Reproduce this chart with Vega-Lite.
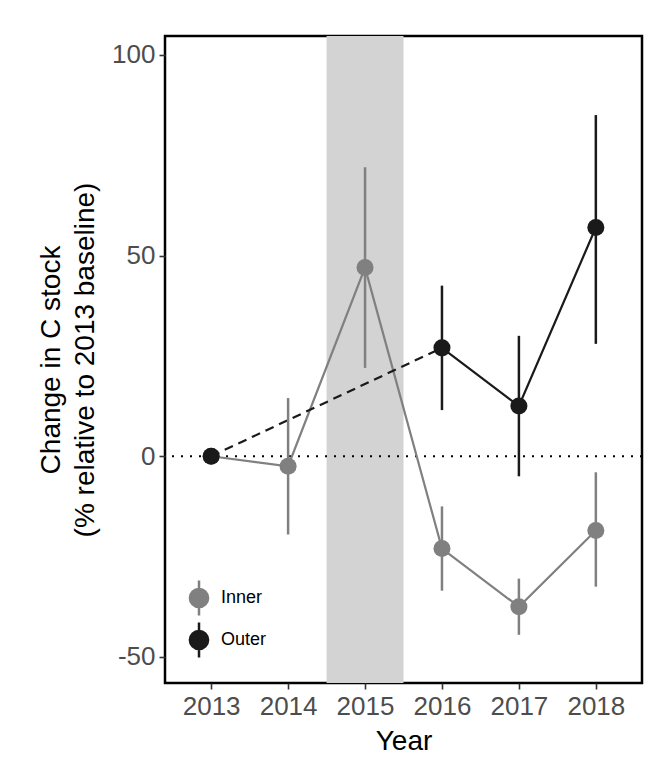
{
  "$schema": "https://vega.github.io/schema/vega-lite/v6.json",
  "width": 477,
  "height": 647,
  "autosize": {"type": "none"},
  "padding": {"left": 165, "top": 36, "right": 29, "bottom": 75},
  "background": "white",
  "config": {
    "font": "Liberation Sans",
    "view": {"stroke": "black", "strokeWidth": 2.5},
    "axis": {"grid": false, "domain": false, "labelFontSize": 26, "labelColor": "#4d4d4d", "tickColor": "#333333", "tickWidth": 1.6, "tickSize": 6, "titleFontWeight": "normal", "titleColor": "black", "labelFont": "Liberation Sans", "titleFont": "Liberation Sans"}
  },
  "datasets": {
    "pts": [
      {"Year": 2013, "Group": "Inner", "val": 0, "lo": 0, "hi": 0},
      {"Year": 2014, "Group": "Inner", "val": -2.5, "lo": -19.5, "hi": 14.5},
      {"Year": 2015, "Group": "Inner", "val": 47, "lo": 22, "hi": 72},
      {"Year": 2016, "Group": "Inner", "val": -23, "lo": -33.5, "hi": -12.5},
      {"Year": 2017, "Group": "Inner", "val": -37.5, "lo": -44.5, "hi": -30.5},
      {"Year": 2018, "Group": "Inner", "val": -18.5, "lo": -32.5, "hi": -4},
      {"Year": 2013, "Group": "Outer", "val": 0, "lo": 0, "hi": 0},
      {"Year": 2016, "Group": "Outer", "val": 27, "lo": 11.5, "hi": 42.5},
      {"Year": 2017, "Group": "Outer", "val": 12.5, "lo": -5, "hi": 30},
      {"Year": 2018, "Group": "Outer", "val": 57, "lo": 28, "hi": 85}
    ],
    "band": [{"start": 2014.5, "end": 2015.5}],
    "zero": [{"y": 0}]
  },
  "layer": [
    {
      "data": {"name": "band"},
      "mark": {"type": "rect", "color": "#d3d3d3"},
      "encoding": {
        "x": {"field": "start", "type": "quantitative", "scale": {"domain": [2012.4, 2018.6], "nice": false, "zero": false}},
        "x2": {"field": "end"}
      }
    },
    {
      "data": {"name": "zero"},
      "mark": {"type": "rule", "color": "black", "strokeWidth": 2, "strokeDash": [2, 7]},
      "encoding": {"y": {"field": "y", "type": "quantitative"}}
    },
    {
      "data": {"name": "pts"},
      "transform": [{"filter": "datum.Group == 'Inner'"}],
      "mark": {"type": "line", "strokeWidth": 2.2},
      "encoding": {
        "x": {"field": "Year", "type": "quantitative"},
        "y": {"field": "val", "type": "quantitative"},
        "color": {"field": "Group", "type": "nominal"}
      }
    },
    {
      "data": {"name": "pts"},
      "transform": [{"filter": "datum.Group == 'Outer' && datum.Year <= 2016"}],
      "mark": {"type": "line", "strokeWidth": 2.2, "strokeDash": [9, 6]},
      "encoding": {
        "x": {"field": "Year", "type": "quantitative"},
        "y": {"field": "val", "type": "quantitative"},
        "color": {"field": "Group", "type": "nominal"}
      }
    },
    {
      "data": {"name": "pts"},
      "transform": [{"filter": "datum.Group == 'Outer' && datum.Year >= 2016"}],
      "mark": {"type": "line", "strokeWidth": 2.2},
      "encoding": {
        "x": {"field": "Year", "type": "quantitative"},
        "y": {"field": "val", "type": "quantitative"},
        "color": {"field": "Group", "type": "nominal"}
      }
    },
    {
      "data": {"name": "pts"},
      "transform": [{"filter": "datum.hi != datum.lo"}],
      "mark": {"type": "rule", "strokeWidth": 2.5},
      "encoding": {
        "x": {"field": "Year", "type": "quantitative"},
        "y": {"field": "lo", "type": "quantitative"},
        "y2": {"field": "hi"},
        "color": {"field": "Group", "type": "nominal"}
      }
    },
    {
      "data": {"name": "pts"},
      "mark": {"type": "point", "filled": true, "opacity": 1, "size": 290},
      "encoding": {
        "x": {
          "field": "Year", "type": "quantitative",
          "scale": {"domain": [2012.4, 2018.6], "nice": false, "zero": false},
          "axis": {"values": [2013, 2014, 2015, 2016, 2017, 2018], "format": "d", "title": "Year", "titleFontSize": 28, "labelPadding": 4, "titlePadding": 8}
        },
        "y": {
          "field": "val", "type": "quantitative",
          "scale": {"domain": [-56.5, 104.7], "nice": false, "zero": false},
          "axis": {"values": [-50, 0, 50, 100], "labelExpr": "datum.value < 0 ? '-' + abs(datum.value) : '' + datum.value", "title": ["Change in C stock", "(% relative to 2013 baseline)"], "titleFontSize": 28, "titleLineHeight": 34, "labelPadding": 4, "titlePadding": 12}
        },
        "color": {
          "field": "Group", "type": "nominal",
          "scale": {"domain": ["Inner", "Outer"], "range": ["#808080", "#1a1a1a"]},
          "legend": {
            "title": null,
            "orient": "none",
            "legendX": 15,
            "legendY": 543,
            "padding": 0,
            "symbolType": "M0,-1L0,1M-0.52,0A0.52,0.52,0,1,0,0.52,0A0.52,0.52,0,1,0,-0.52,0Z",
            "symbolSize": 1225,
            "symbolStrokeWidth": 2.5,
            "symbolOpacity": 1,
            "labelFontSize": 18,
            "labelColor": "black",
            "labelOffset": 3,
            "rowPadding": -6,
            "encode": {"symbols": {"update": {"stroke": {"scale": "color", "field": "value"}, "fill": {"scale": "color", "field": "value"}}}}
          }
        }
      }
    }
  ]
}
